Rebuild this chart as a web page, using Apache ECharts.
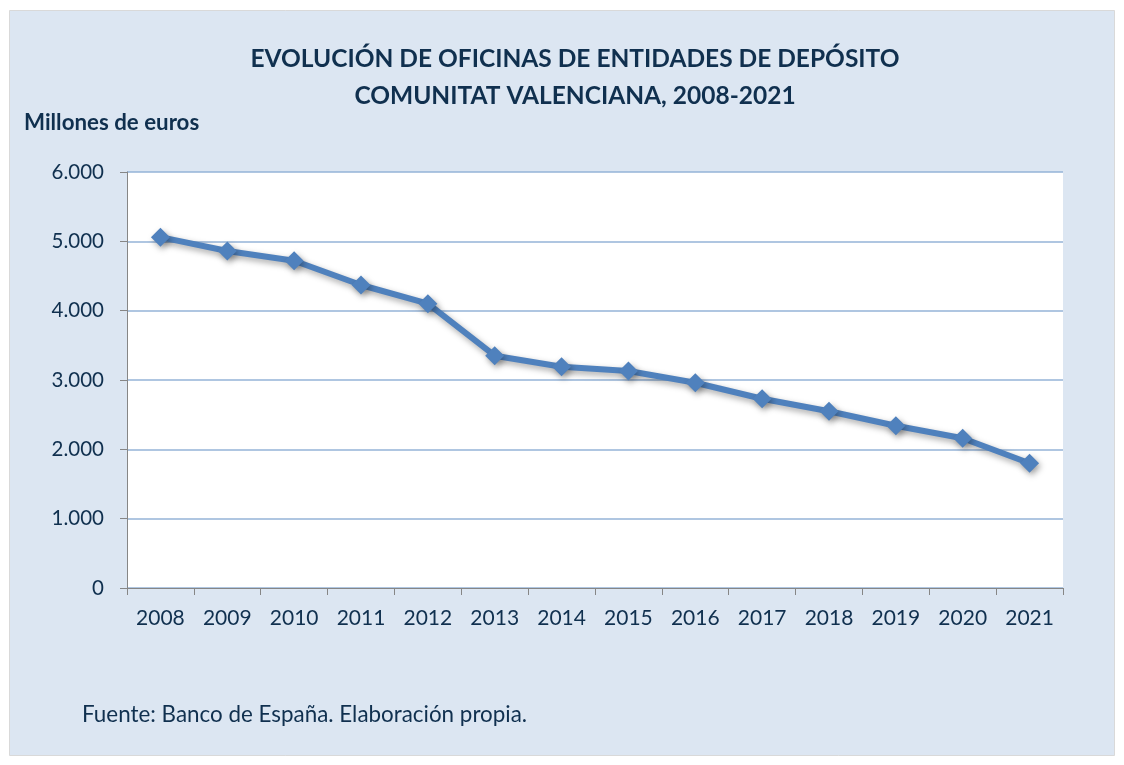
<!DOCTYPE html>
<html><head><meta charset="utf-8">
<script src="https://cdn.jsdelivr.net/npm/echarts@6/dist/echarts.min.js"></script>
<style>html,body{margin:0;padding:0;background:#fff}#c{width:1124px;height:765px}</style>
</head><body><div id="c"></div>
<script>
const years = ['2008','2009','2010','2011','2012','2013','2014','2015','2016','2017','2018','2019','2020','2021'];
const oficinas = [5060, 4860, 4720, 4370, 4100, 3350, 3190, 3130, 2960, 2730, 2550, 2340, 2160, 1800];
const titleLines = ['EVOLUCIÓN DE OFICINAS DE ENTIDADES DE DEPÓSITO', 'COMUNITAT VALENCIANA, 2008-2021'];
const unitLabel = 'Millones de euros';
const sourceText = 'Fuente: Banco de España. Elaboración propia.';
const txt = '#10304f';
const font = 'Lato';
const chart = echarts.init(document.getElementById('c'));
chart.setOption({
  backgroundColor: '#ffffff',
  graphic: [
    {type:'rect', shape:{x:9.5,y:10.5,width:1105,height:745}, style:{fill:'#dce6f2', stroke:'#d9d9d9', lineWidth:1}, z:-10},
    {type:'rect', shape:{x:127,y:172,width:936,height:416}, style:{fill:'#ffffff'}, z:-5},
    {type:'text', left:24, top:112, style:{text:unitLabel, fontFamily:font, fontWeight:'bold', fontSize:22.3, fill:txt}},
    {type:'text', left:82, top:704, style:{text:sourceText, fontFamily:font, fontSize:22.4, fill:txt}}
  ],
  title: {
    text: titleLines.join('\n'), left: 570, top: 36, textAlign: 'center',
    textStyle: {fontFamily: font, fontWeight: 'bold', fontSize: 24.5, color: txt, lineHeight: 37}
  },
  grid: {left: 127, right: 61, top: 172, bottom: 177},
  xAxis: {
    type: 'category', data: years, boundaryGap: true,
    axisLine: {lineStyle: {color: '#868686', width: 1}},
    axisTick: {show: true, length: 7, lineStyle: {color: '#868686'}},
    axisLabel: {color: txt, fontFamily: font, fontSize: 21, margin: 20},
    splitLine: {show: false}
  },
  yAxis: {
    type: 'value', min: 0, max: 6000, interval: 1000,
    axisLine: {show: true, lineStyle: {color: '#868686', width: 1}},
    axisTick: {show: true, length: 7, lineStyle: {color: '#868686'}},
    axisLabel: {color: txt, fontFamily: font, fontSize: 20.5, margin: 23,
      formatter: v => v === 0 ? '0' : (v/1000) + '.000'},
    splitLine: {lineStyle: {color: '#95b3d7', width: 1.5}}
  },
  series: [{
    type: 'line', data: oficinas,
    symbol: 'diamond', symbolSize: 19,
    lineStyle: {color: '#4f81bd', width: 6, shadowColor: 'rgba(0,0,0,0.35)', shadowBlur: 6, shadowOffsetX: 2, shadowOffsetY: 3},
    itemStyle: {color: '#4f81bd', shadowColor: 'rgba(0,0,0,0.35)', shadowBlur: 6, shadowOffsetX: 2, shadowOffsetY: 3},
    animation: false
  }],
  animation: false
});
</script></body></html>
